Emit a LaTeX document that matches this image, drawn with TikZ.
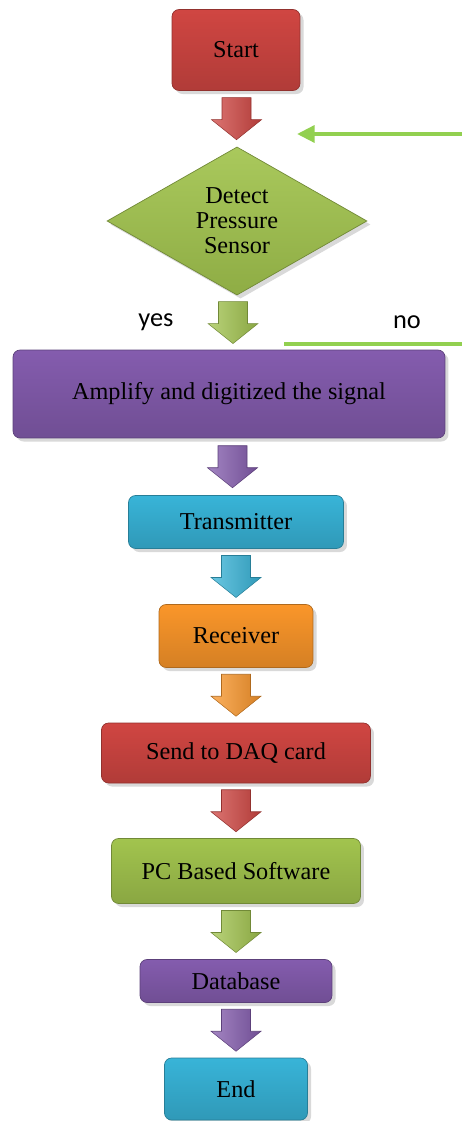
\documentclass[tikz,border=0pt]{standalone}
\usepackage{fontspec}
\setmainfont{Liberation Serif}
\newfontfamily\labelfont{Carlito}
\usetikzlibrary{shapes.geometric,shadows,arrows.meta}
\definecolor{ofred}{HTML}{D04642}
\definecolor{ofgreen}{HTML}{A2C44E}
\definecolor{ofpurple}{HTML}{845CAE}
\definecolor{ofcyan}{HTML}{38B4D8}
\definecolor{oforange}{HTML}{FA962A}
\definecolor{linegreen}{HTML}{92D050}
% block arrow from one step down to the next
\newcommand\flowarrow[3]{%
  \path (#1.south) -- (#2.north) coordinate[midway] (#1-mid);
  \shade[draw=#3!70!black, line width=0.3pt, left color=#3!75!white, right color=#3!85!black]
    ([shift={(-14.5,-21)}]#1-mid) -- ([shift={(14.5,-21)}]#1-mid) -- ([shift={(14.5,1)}]#1-mid)
    -- ([shift={(25,1)}]#1-mid) -- ([shift={(0,21)}]#1-mid) -- ([shift={(-25,1)}]#1-mid)
    -- ([shift={(-14.5,1)}]#1-mid) -- cycle;}
\begin{document}
\begin{tikzpicture}[x=0.02cm,y=-0.02cm,
    box/.style={rectangle, rounded corners=4pt, draw=#1!70!black, line width=0.4pt,
      top color=#1, bottom color=#1!85!black,
      font=\fontsize{13.8}{16}\selectfont,
      drop shadow={opacity=0.3, shadow xshift=2pt, shadow yshift=-2pt}},
    decision/.style={diamond, draw=#1!70!black, line width=0.4pt, inner sep=0pt,
      top color=#1!92!white, bottom color=#1!88!black, align=center,
      font=\fontsize{13.8}{14.2}\selectfont,
      drop shadow={opacity=0.3, shadow xshift=2pt, shadow yshift=-2pt}},
    loopline/.style={draw=linegreen, line width=2.3pt}]
\useasboundingbox (0,0) rectangle (462,1121);

\node[box=ofred, minimum width=2.56cm, minimum height=1.62cm] (start) at (236,50) {Start};
\node[decision=ofgreen, minimum width=5.2cm, minimum height=2.94cm] (detect) at (237,221) {Detect\\Pressure\\Sensor};
\node[box=ofpurple, minimum width=8.64cm, minimum height=1.76cm] (amplify) at (229,394) {Amplify and digitized the signal};
\node[box=ofcyan, minimum width=4.3cm, minimum height=1.06cm] (transmitter) at (236,522) {Transmitter};
\node[box=oforange, minimum width=3.08cm, minimum height=1.26cm] (receiver) at (236,636) {Receiver};
\node[box=ofred, minimum width=5.38cm, minimum height=1.2cm] (daq) at (236,753) {Send to DAQ card};
\node[box=ofgreen, minimum width=4.98cm, minimum height=1.3cm] (software) at (236,871) {PC Based Software};
\node[box=ofpurple, minimum width=3.84cm, minimum height=0.86cm] (database) at (236,981) {Database};
\node[box=ofcyan, minimum width=2.86cm, minimum height=1.24cm] (end) at (236,1089) {End};

% block arrows between the steps
\flowarrow{start}{detect}{ofred}
\flowarrow{detect}{amplify}{ofgreen}
\flowarrow{amplify}{transmitter}{ofpurple}
\flowarrow{transmitter}{receiver}{ofcyan}
\flowarrow{receiver}{daq}{oforange}
\flowarrow{daq}{software}{ofred}
\flowarrow{software}{database}{ofgreen}
\flowarrow{database}{end}{ofpurple}

% the "no" branch
\node[font=\labelfont\fontsize{15}{18}\selectfont] (yes) at (156,322) {yes};
\node[font=\labelfont\fontsize{15}{18}\selectfont] (no) at (407,322) {no};
\coordinate (nostart) at (284,344);
\coordinate (noend) at (462,344);
\coordinate (backfrom) at (462,134);
\coordinate (backto) at (297,134);
\draw[loopline] (nostart) -- (noend);
\draw[loopline, -{Triangle[length=10pt, width=9.5pt]}] (backfrom) -- (backto);
\end{tikzpicture}
\end{document}
